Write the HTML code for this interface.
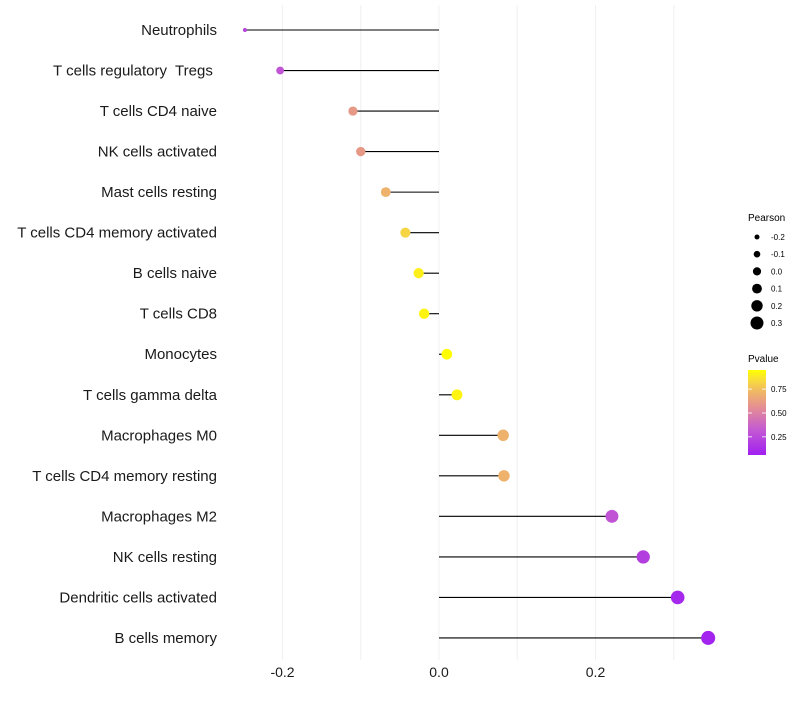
<!DOCTYPE html>
<html><head><meta charset="utf-8"><style>
body{margin:0;background:#fff;font-family:"Liberation Sans",sans-serif}
text{white-space:pre}
</style></head><body>
<svg id="c" width="800" height="700" xmlns="http://www.w3.org/2000/svg"></svg>
<script>
const categories=["Neutrophils","T cells regulatory  Tregs ","T cells CD4 naive","NK cells activated","Mast cells resting","T cells CD4 memory activated","B cells naive","T cells CD8","Monocytes","T cells gamma delta","Macrophages M0","T cells CD4 memory resting","Macrophages M2","NK cells resting","Dendritic cells activated","B cells memory"];
const pearson=[-0.248,-0.203,-0.110,-0.100,-0.068,-0.043,-0.026,-0.019,0.010,0.023,0.082,0.083,0.221,0.261,0.305,0.344];
const pvalues=[0.22,0.3,0.6,0.6,0.7,0.82,0.9,0.92,0.95,0.92,0.7,0.7,0.3,0.2,0.1,0.08];
const xTicks=[-0.2,0,0.2];
const xTickLabels=["-0.2","0.0","0.2"];
const sizeLegend=[-0.2,-0.1,0.0,0.1,0.2,0.3];
const sizeLegendLabels=["-0.2","-0.1","0.0","0.1","0.2","0.3"];
const colorTicks=[0.25,0.5,0.75];
const colorTickLabels=["0.25","0.50","0.75"];

const svg=document.getElementById('c');
const NS="http://www.w3.org/2000/svg";
const x=v=>439+v*782.5;
const y=i=>30+i*40.53;
const r=v=>{const q=28+62*v;return q<15?2:Math.sqrt(q);};
const rl=v=>2.5+4*(v+0.2)/0.5;
const pmin=0.06,pmax=0.95;
function lerp(a,b,t){return a.map((c,i)=>Math.round(c+(b[i]-c)*t));}
const stops=[[0,[160,32,240]],[0.3,[196,90,210]],[0.55,[228,140,150]],[0.75,[240,185,100]],[0.88,[248,220,60]],[1,[255,255,0]]];
function col(p){const t=Math.max(0,Math.min(1,(p-pmin)/(pmax-pmin)));
 let i=0;while(i<stops.length-2&&t>stops[i+1][0])i++;
 const a=stops[i],b=stops[i+1];const c=lerp(a[1],b[1],(t-a[0])/(b[0]-a[0]));return `rgb(${c[0]},${c[1]},${c[2]})`;}
function el(t,a,p){const e=document.createElementNS(NS,t);for(const k in a)e.setAttribute(k,a[k]);(p||svg).appendChild(e);return e;}

[-0.2,-0.1,0,0.1,0.2,0.3].forEach(v=>{const g=el('line',{x1:x(v),x2:x(v),y1:5,y2:660,stroke:'#f0f0f0','stroke-width':1});

});

categories.forEach((c,i)=>{
 const t=el('text',{x:217,y:y(i)+5,'text-anchor':'end','font-size':15,fill:'#1a1a1a'});t.textContent=c;
 
 
 const l=el('line',{x1:x(0),x2:x(pearson[i]),y1:y(i),y2:y(i),stroke:'#000','stroke-width':1.1});
 
 
 const d=el('circle',{cx:x(pearson[i]),cy:y(i),r:r(pearson[i]),fill:col(pvalues[i])});
 
 
});
xTicks.forEach((v,i)=>{const t=el('text',{x:x(v),y:677,'text-anchor':'middle','font-size':14,fill:'#1a1a1a'});t.textContent=xTickLabels[i];

});

const lt=el('text',{x:748,y:221,'font-size':10,fill:'#000'});lt.textContent='Pearson';


sizeLegend.forEach((v,i)=>{const cy=237+i*17.2;
 const c=el('circle',{cx:757,cy:cy,r:rl(v),fill:'#000'});
 
 
 const t=el('text',{x:771,y:cy+3,'font-size':8,fill:'#000'});t.textContent=sizeLegendLabels[i];
 
 });
const pt=el('text',{x:748,y:362,'font-size':10,fill:'#000'});pt.textContent='Pvalue';


const defs=el('defs',{});const g=el('linearGradient',{id:'gr',x1:0,y1:1,x2:0,y2:0},defs);
for(let k=0;k<=20;k++){el('stop',{offset:k/20,'stop-color':col(pmin+(pmax-pmin)*k/20)},g);}
const bar=el('rect',{x:748,y:370,width:18,height:85,fill:'url(#gr)'});


colorTicks.forEach((v,i)=>{const cy=455-(v-pmin)/(pmax-pmin)*85;
 el('line',{x1:748,x2:752,y1:cy,y2:cy,stroke:'#fff','stroke-width':0.8});
 el('line',{x1:762,x2:766,y1:cy,y2:cy,stroke:'#fff','stroke-width':0.8});
 const t=el('text',{x:771,y:cy+3,'font-size':8,fill:'#000'});t.textContent=colorTickLabels[i];
 
 });
</script>
</body></html>
